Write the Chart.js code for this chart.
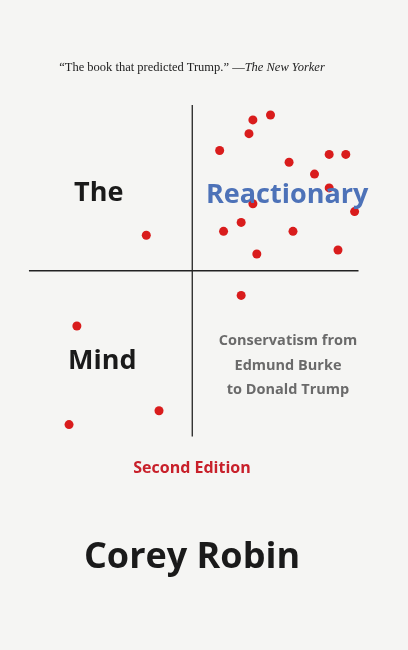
<!DOCTYPE html>
<html>
<head>
<meta charset="utf-8">
<script src="https://cdn.jsdelivr.net/npm/chart.js@4/dist/chart.umd.min.js"></script>
<style>
  html, body { margin: 0; padding: 0; background: #f5f5f3; }
  #wrap { position: relative; width: 408px; height: 650px; }
  canvas { position: absolute; left: 0; top: 0; }
  .t { position: absolute; font-family: "Open Sans", Lato, sans-serif; font-weight: 700; white-space: nowrap; }
</style>
</head>
<body>
<div id="wrap">
  <canvas id="cover" width="408" height="650"></canvas>
  <div class="t" style="left:0;width:384px;top:60px;text-align:center;font-family:'Liberation Serif',serif;font-weight:400;font-size:12.5px;color:#222">“The book that predicted Trump.” —<i>The New Yorker</i></div>
  <div class="t" style="left:74px;top:172px;font-size:27px;color:#1a1a1a">The</div>
  <div class="t" style="left:206px;top:174px;font-size:27px;color:#4d72b8">Reactionary</div>
  <div class="t" style="left:68px;top:340px;font-size:27px;color:#1a1a1a">Mind</div>
  <div class="t" style="left:196px;width:184px;top:328px;text-align:center;font-size:14.5px;line-height:24.5px;color:#6a6a6a">Conservatism from<br>Edmund Burke<br>to Donald Trump</div>
  <div class="t" style="left:0;width:384px;top:456px;text-align:center;font-size:16px;color:#c8202a">Second Edition</div>
  <div class="t" style="left:0;width:384px;top:530px;text-align:center;font-size:36px;color:#1a1a1a">Corey Robin</div>
</div>
<script>
// dots, in cover units (x from left, y from top)
const dotX = [272, 254, 250, 220, 291, 332, 349, 317, 332, 254, 358, 242, 224, 295, 145, 341, 258, 242, 74, 158, 66];
const dotY = [112, 117, 131, 148, 160, 152, 152, 172, 186, 202, 210, 221, 230, 230, 234, 249, 253, 295, 326, 412, 426];
const vAxis = [[192, 102], [192, 438]];
const hAxis = [[25, 270], [362, 270]];

const toPts = (a) => a.map(([x, y]) => ({ x, y }));

new Chart(document.getElementById("cover"), {
    type: 'scatter',
    data: {
        datasets: [
            { data: dotX.map((x, i) => ({ x, y: dotY[i] })), pointRadius: 4.5, pointBackgroundColor: '#d91c1c', pointBorderWidth: 0 },
            { type: 'line', data: toPts(vAxis), borderColor: '#222', borderWidth: 1.3, pointRadius: 0 },
            { type: 'line', data: toPts(hAxis), borderColor: '#222', borderWidth: 1.3, pointRadius: 0 }
        ]
    },
    options: {
        responsive: false,
        animation: false,
        layout: { padding: 0 },
        plugins: { legend: { display: false }, tooltip: { enabled: false } },
        scales: {
            x: { type: 'linear', min: 0, max: 408, display: false },
            y: { type: 'linear', min: 0, max: 650, reverse: true, display: false }
        }
    }
});
</script>
</body>
</html>
